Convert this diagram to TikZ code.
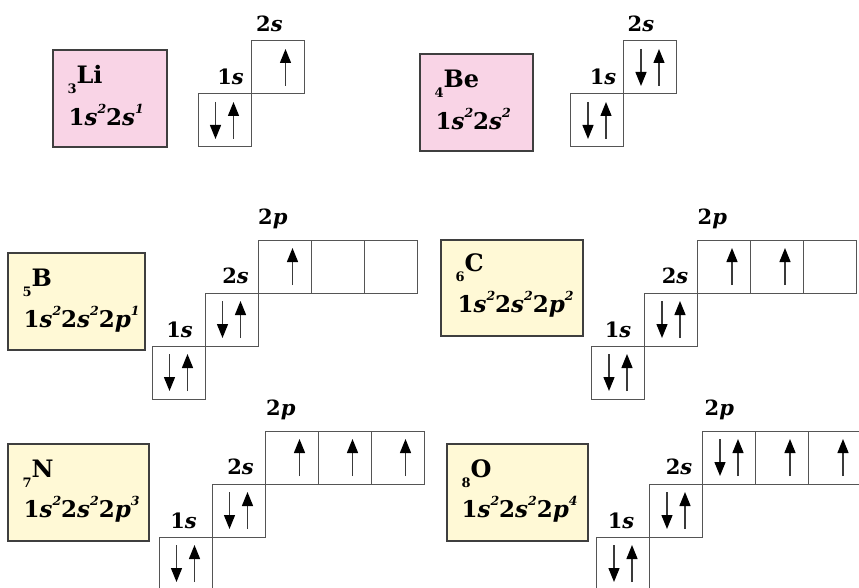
\documentclass[tikz,border=0pt]{standalone}
\usepackage{fontspec}
\setmainfont{DejaVu Serif}
\usetikzlibrary{arrows.meta,positioning}
\definecolor{ECPink}{HTML}{F9D4E6}
\definecolor{ECCream}{HTML}{FFF9D6}
\definecolor{ECEdge}{HTML}{3F3F3F}
\definecolor{ECBoxLine}{HTML}{555555}
\definecolor{ECSpin}{HTML}{3A3A3A}
\newcommand{\zsub}[1]{\raisebox{-10pt}{\fontsize{13}{13}\selectfont#1}}
\newcommand{\esup}[1]{\raisebox{11.5pt}{\fontsize{12.5}{12.5}\selectfont\itshape#1}}
\tikzset{
  orb/.style={draw=ECBoxLine,line width=1pt,minimum size=53pt,inner sep=0pt,outer sep=0pt},
  card/.style={draw=ECEdge,line width=1.3pt,minimum height=97pt,inner sep=0pt},
  cardpink/.style={card,fill=ECPink},
  cardcream/.style={card,fill=ECCream},
  symtext/.style={anchor=base west,inner sep=0pt,font=\fontsize{24}{24}\selectfont\bfseries},
  conftext/.style={anchor=base west,inner sep=0pt,font=\fontsize{23}{23}\selectfont\bfseries},
  shell/.style={inner sep=0pt,font=\fontsize{21}{21}\selectfont\bfseries},
  shellright/.style={shell,anchor=base east},
  shellleft/.style={shell,anchor=base west},
  spin/.style={ECSpin,line width=1.3pt,-{Triangle[length=14pt,width=11pt,color=black]}},
}
\newcommand{\spinup}[2][8pt]{\draw[spin] ([xshift=#1,yshift=-18.5pt]#2.center) -- ([xshift=#1,yshift=18.5pt]#2.center);}
\newcommand{\spindown}[2][-9pt]{\draw[spin] ([xshift=#1,yshift=18.5pt]#2.center) -- ([xshift=#1,yshift=-18.5pt]#2.center);}
\newcommand{\spinpair}[1]{\spindown{#1}\spinup[9pt]{#1}}

\begin{document}
\begin{tikzpicture}[x=1pt,y=-1pt]
    \useasboundingbox (0,0) rectangle (859,588);
    \clip (0,0) rectangle (859,588);

    % lithium
    \node[cardpink,minimum width=114pt] (Li) at (110,98.5) {};
    \node[symtext] (Lisym) at ([xshift=15pt,yshift=-34pt]Li.north west) {\zsub{3}Li};
    \node[conftext] (Liconf) at ([xshift=16pt,yshift=-76pt]Li.north west) {1\textit{s}\esup{2}2\textit{s}\esup{1}};
    \node[orb] (Li1s) at (224.5,120.5) {};
    \node[orb,above right=0pt of Li1s] (Li2s) {};
    \node[shellright] (Li1slab) at ([xshift=-7pt,yshift=9pt]Li1s.north east) {1\textit{s}};
    \node[shellleft] (Li2slab) at ([xshift=5pt,yshift=9pt]Li2s.north west) {2\textit{s}};
    \spinpair{Li1s}
    \spinup{Li2s}

    % beryllium
    \node[cardpink,minimum width=113pt] (Be) at (476.5,102.5) {};
    \node[symtext] (Besym) at ([xshift=15pt,yshift=-34pt]Be.north west) {\zsub{4}Be};
    \node[conftext] (Beconf) at ([xshift=16pt,yshift=-76pt]Be.north west) {1\textit{s}\esup{2}2\textit{s}\esup{2}};
    \node[orb] (Be1s) at (597,120.5) {};
    \node[orb,above right=0pt of Be1s] (Be2s) {};
    \node[shellright] (Be1slab) at ([xshift=-7pt,yshift=9pt]Be1s.north east) {1\textit{s}};
    \node[shellleft] (Be2slab) at ([xshift=4pt,yshift=9pt]Be2s.north west) {2\textit{s}};
    \spinpair{Be1s}
    \spinpair{Be2s}

    % boron
    \node[cardcream,minimum width=137pt] (B) at (76.5,301.5) {};
    \node[symtext] (Bsym) at ([xshift=15pt,yshift=-34pt]B.north west) {\zsub{5}B};
    \node[conftext] (Bconf) at ([xshift=16pt,yshift=-75pt]B.north west) {1\textit{s}\esup{2}2\textit{s}\esup{2}2\textit{p}\esup{1}};
    \node[orb] (B1s) at (178.5,372.5) {};
    \node[orb,above right=0pt of B1s] (B2s) {};
    \node[orb,above right=0pt of B2s] (B2pa) {};
    \node[orb,right=0pt of B2pa] (B2pb) {};
    \node[orb,right=0pt of B2pb] (B2pc) {};
    \node[shellright] (B1slab) at ([xshift=-12pt,yshift=9pt]B1s.north east) {1\textit{s}};
    \node[shellright] (B2slab) at ([xshift=-9pt,yshift=10pt]B2s.north east) {2\textit{s}};
    \node[shellleft] (B2plab) at ([xshift=0pt,yshift=15pt]B2pa.north west) {2\textit{p}};
    \spinpair{B1s}
    \spinpair{B2s}
    \spinup{B2pa}

    % carbon
    \node[cardcream,minimum width=142pt,minimum height=96pt] (C) at (512,288) {};
    \node[symtext] (Csym) at ([xshift=15pt,yshift=-32pt]C.north west) {\zsub{6}C};
    \node[conftext] (Cconf) at ([xshift=17pt,yshift=-73pt]C.north west) {1\textit{s}\esup{2}2\textit{s}\esup{2}2\textit{p}\esup{2}};
    \node[orb] (C1s) at (618,372.5) {};
    \node[orb,above right=0pt of C1s] (C2s) {};
    \node[orb,above right=0pt of C2s] (C2pa) {};
    \node[orb,right=0pt of C2pa] (C2pb) {};
    \node[orb,right=0pt of C2pb] (C2pc) {};
    \node[shellright] (C1slab) at ([xshift=-13pt,yshift=9pt]C1s.north east) {1\textit{s}};
    \node[shellright] (C2slab) at ([xshift=-9pt,yshift=10pt]C2s.north east) {2\textit{s}};
    \node[shellleft] (C2plab) at ([xshift=0pt,yshift=15pt]C2pa.north west) {2\textit{p}};
    \spinpair{C1s}
    \spinpair{C2s}
    \spinup{C2pa}
    \spinup{C2pb}

    % nitrogen
    \node[cardcream,minimum width=141pt] (N) at (78.5,492.5) {};
    \node[symtext] (Nsym) at ([xshift=15pt,yshift=-34pt]N.north west) {\zsub{7}N};
    \node[conftext] (Nconf) at ([xshift=16pt,yshift=-74pt]N.north west) {1\textit{s}\esup{2}2\textit{s}\esup{2}2\textit{p}\esup{3}};
    \node[orb] (N1s) at (185.5,563.5) {};
    \node[orb,above right=0pt of N1s] (N2s) {};
    \node[orb,above right=0pt of N2s] (N2pa) {};
    \node[orb,right=0pt of N2pa] (N2pb) {};
    \node[orb,right=0pt of N2pb] (N2pc) {};
    \node[shellright] (N1slab) at ([xshift=-15pt,yshift=9pt]N1s.north east) {1\textit{s}};
    \node[shellright] (N2slab) at ([xshift=-11pt,yshift=10pt]N2s.north east) {2\textit{s}};
    \node[shellleft] (N2plab) at ([xshift=1pt,yshift=16pt]N2pa.north west) {2\textit{p}};
    \spinpair{N1s}
    \spinpair{N2s}
    \spinup{N2pa}
    \spinup{N2pb}
    \spinup{N2pc}

    % oxygen
    \node[cardcream,minimum width=141pt] (O) at (517.5,492.5) {};
    \node[symtext] (Osym) at ([xshift=15pt,yshift=-34pt]O.north west) {\zsub{8}O};
    \node[conftext] (Oconf) at ([xshift=15pt,yshift=-74pt]O.north west) {1\textit{s}\esup{2}2\textit{s}\esup{2}2\textit{p}\esup{4}};
    \node[orb] (O1s) at (623,563.5) {};
    \node[orb,above right=0pt of O1s] (O2s) {};
    \node[orb,above right=0pt of O2s] (O2pa) {};
    \node[orb,right=0pt of O2pa] (O2pb) {};
    \node[orb,right=0pt of O2pb] (O2pc) {};
    \node[shellright] (O1slab) at ([xshift=-15pt,yshift=9pt]O1s.north east) {1\textit{s}};
    \node[shellright] (O2slab) at ([xshift=-10pt,yshift=10pt]O2s.north east) {2\textit{s}};
    \node[shellleft] (O2plab) at ([xshift=2pt,yshift=16pt]O2pa.north west) {2\textit{p}};
    \spinpair{O1s}
    \spinpair{O2s}
    \spinpair{O2pa}
    \spinup{O2pb}
    \spinup{O2pc}
\end{tikzpicture}
\end{document}
